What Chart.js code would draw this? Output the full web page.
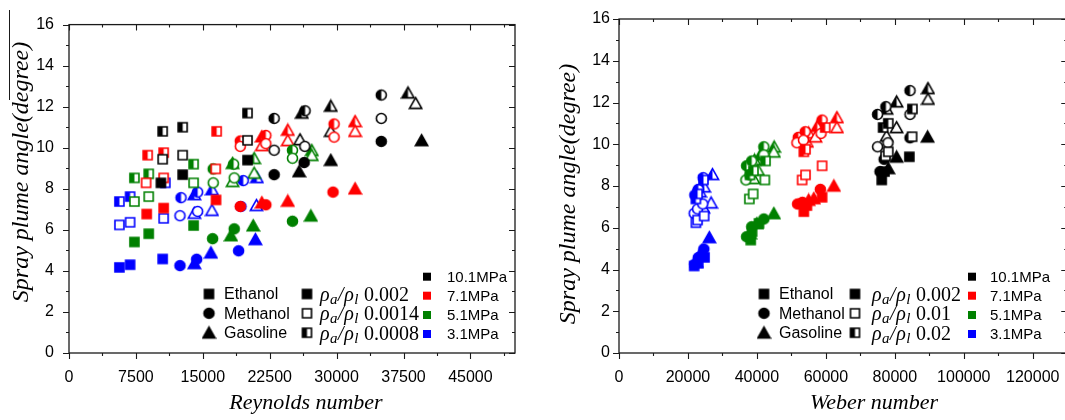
<!DOCTYPE html>
<html>
<head>
<meta charset="utf-8">
<script src="https://cdn.jsdelivr.net/npm/chart.js@4.4.1/dist/chart.umd.min.js"></script>
<style>
  html, body { margin: 0; padding: 0; overflow: hidden; background: #fff; }
  #wrap { position: relative; width: 1075px; height: 420px; }
  canvas { position: absolute; top: 0; }
  #reChart { left: 0; }
  #weChart { left: 540px; }
</style>
</head>
<body>
<div id="wrap">
  <canvas id="reChart" width="540" height="420"></canvas>
  <canvas id="weChart" width="535" height="420"></canvas>
</div>
<script>
// categories
const fuels = ['Ethanol', 'Methanol', 'Gasoline'];
const pressures = ['10.1MPa', '7.1MPa', '5.1MPa', '3.1MPa'];
const densityRatioRe = ['0.002', '0.0014', '0.0008'];
const densityRatioWe = ['0.002', '0.01', '0.02'];
const yTicks = [0, 2, 4, 6, 8, 10, 12, 14, 16];
const reTicks = [0, 7500, 15000, 22500, 30000, 37500, 45000];
const weTicks = [0, 20000, 40000, 60000, 80000, 100000, 120000];

// rows: 10.1, 7.1, 5.1, 3.1 MPa ; each row: [filled, open, half] ; 3 points each
const ethanolAngle = [
  [[8.29, 8.69, 9.40], [9.44, 9.64, 10.36], [10.80, 11.00, 11.69]],
  [[6.77, 7.06, 7.46], [8.29, 8.53, 8.97], [9.64, 9.76, 10.80]],
  [[5.41, 5.81, 6.21], [7.38, 7.62, 8.29], [8.53, 8.73, 9.20]],
  [[4.17, 4.30, 4.58], [6.24, 6.37, 6.56], [7.38, 7.62, 8.29]]
];
const ethanolRe = [
  [[10300, 12740, 20015], [10500, 12740, 20015], [10500, 12740, 20015]],
  [[8710, 10610, 16480], [8640, 10610, 16450], [8820, 10610, 16550]],
  [[7330, 8940, 13970], [7330, 8940, 13970], [7330, 8940, 13970]],
  [[5650, 6850, 10500], [5650, 6850, 10610], [5650, 6850, 10800]]
];
const ethanolWe = [
  [[76200, 77000, 84200], [77300, 78100, 85000], [76600, 78100, 85100]],
  [[53600, 54500, 58900], [53100, 54100, 58900], [53600, 54100, 59800]],
  [[38200, 38600, 40600], [37800, 38900, 42300], [38000, 39000, 42500]],
  [[21800, 23000, 24800], [22300, 22800, 24700], [22300, 22800, 24500]]
];

const methanolAngle = [
  [[8.69, 9.28, 10.31], [9.88, 10.07, 11.43], [11.43, 11.80, 12.57]],
  [[7.14, 7.22, 7.84], [10.07, 10.20, 10.52], [10.33, 10.60, 11.16]],
  [[5.57, 6.05, 6.42], [8.29, 8.53, 9.49], [8.97, 9.20, 9.88]],
  [[4.26, 4.57, 4.98], [6.69, 6.90, 7.14], [7.57, 7.84, 8.40]]
];
const methanolRe = [
  [[23000, 26360, 35010], [23000, 26440, 35010], [23000, 26470, 35010]],
  [[19200, 22070, 29600], [19200, 22070, 29720], [19200, 22070, 29720]],
  [[16100, 18520, 25050], [16170, 18520, 25050], [16170, 18450, 25050]],
  [[12440, 14310, 19010], [12440, 14420, 19270], [12560, 14420, 19530]]
];
const methanolWe = [
  [[75700, 76900, 84400], [75000, 78000, 84400], [75000, 77400, 84400]],
  [[51800, 53200, 58400], [51600, 53500, 58600], [52000, 54000, 58900]],
  [[37000, 38500, 42000], [36800, 38000, 42000], [37000, 38500, 42000]],
  [[22000, 23000, 24600], [21800, 22800, 24300], [22000, 23000, 24400]]
];

const gasolineAngle = [
  [[8.85, 9.40, 10.36], [10.40, 10.81, 12.17], [11.70, 12.04, 12.68]],
  [[7.33, 7.41, 8.01], [10.12, 10.36, 10.81], [10.55, 10.87, 11.29]],
  [[5.73, 6.21, 6.69], [8.37, 8.77, 9.64], [9.25, 9.49, 9.88]],
  [[4.37, 4.89, 5.54], [6.82, 6.96, 7.20], [7.73, 7.97, 8.56]]
];
const gasolineRe = [
  [[25800, 29350, 39530], [25900, 29350, 38860], [26100, 29350, 38000]],
  [[21620, 24530, 32070], [21620, 24530, 32070], [21620, 24530, 32070]],
  [[18150, 20650, 27110], [18340, 20760, 27220], [18340, 20760, 27220]],
  [[14050, 15910, 20900], [14050, 16030, 21020], [14050, 16030, 21060]]
];
const gasolineWe = [
  [[78100, 80500, 89500], [77600, 80500, 89600], [77600, 80500, 89600]],
  [[55000, 56500, 62300], [54500, 57000, 63200], [55000, 57500, 63200]],
  [[38000, 40000, 44900], [39000, 40300, 44900], [39300, 41000, 45000]],
  [[22500, 24000, 26200], [23500, 24500, 26700], [23500, 24700, 27100]]
];

const pressureColors = ['#000000', '#ff0000', '#008000', '#0000ff'];
const fuelShapes = ['square', 'circle', 'triangle'];
const densityFills = ['filled', 'open', 'half'];

Chart.defaults.font.family = '"Liberation Sans", Arial, sans-serif';
Chart.defaults.color = '#000';

// marker images for the point styles
const markerCache = {};
function marker(shape, fill, color) {
    const key = shape + fill + color;
    if (markerCache[key]) return markerCache[key];
    const c = document.createElement('canvas');
    c.width = 15;
    c.height = 15;
    const g = c.getContext('2d');
    const path = () => {
        g.beginPath();
        if (shape === 'square') g.rect(3, 3, 9, 9);
        else if (shape === 'circle') g.arc(7.5, 7.5, 5, 0, Math.PI * 2);
        else { g.moveTo(7.5, 1.8); g.lineTo(13.6, 12.6); g.lineTo(1.4, 12.6); g.closePath(); }
    };
    g.lineWidth = 1.6;
    g.strokeStyle = color;
    g.fillStyle = color;
    g.lineJoin = 'miter';
    path();
    if (fill === 'filled') {
        g.fill();
        g.stroke();
    } else {
        g.fillStyle = '#fff';
        g.fill();
        if (fill === 'half') {
            g.save();
            g.beginPath();
            g.rect(0, 0, 7.5, 15);
            g.clip();
            path();
            g.fillStyle = color;
            g.fill();
            g.restore();
            path();
        }
        g.stroke();
    }
    markerCache[key] = c;
    return c;
}

function buildDatasets(angleSets, xSets) {
    const out = [];
    fuels.forEach((fuel, f) => {
        pressures.forEach((p, i) => {
            densityFills.forEach((fill, d) => {
                const xs = xSets[f][i][d];
                const ys = angleSets[f][i][d];
                out.push({
                    label: fuel + ' ' + p + ' ' + fill,
                    data: xs.map((x, k) => ({ x: x, y: ys[k] })),
                    pointStyle: marker(fuelShapes[f], fill, pressureColors[i]),
                    pointRadius: 6
                });
            });
        });
    });
    return out;
}

const angleSets = [ethanolAngle, methanolAngle, gasolineAngle];

// frame, ticks, titles and legend
const framePlugin = {
    id: 'frame',
    afterDraw(chart, args, o) {
        const ctx = chart.ctx;
        const a = chart.chartArea;
        const x = chart.scales.x;
        const y = chart.scales.y;
        ctx.save();
        ctx.strokeStyle = '#1a1a1a';
        ctx.lineWidth = 1.3;
        ctx.strokeRect(a.left, a.top, a.right - a.left, a.bottom - a.top);

        ctx.beginPath();
        for (let k = 0; k * o.xMinor <= x.max + 1e-6; k++) {
            const px = Math.round(x.getPixelForValue(k * o.xMinor)) + 0.5;
            const len = k % 2 === 0 ? 6 : 3;
            ctx.moveTo(px, a.bottom); ctx.lineTo(px, a.bottom + len);
            ctx.moveTo(px, a.top); ctx.lineTo(px, a.top + len);
        }
        for (let v = 0; v <= 16; v++) {
            const py = Math.round(y.getPixelForValue(v)) + 0.5;
            const len = v % 2 === 0 ? 6 : 3;
            ctx.moveTo(a.left - len, py); ctx.lineTo(a.left, py);
            ctx.moveTo(a.right - len, py); ctx.lineTo(a.right, py);
        }
        ctx.lineWidth = 1.1;
        ctx.stroke();

        if (o.overline) {
            ctx.beginPath();
            ctx.lineWidth = 1;
            ctx.moveTo(9.5, 10); ctx.lineTo(9.5, 100);
            ctx.stroke();
        }

        // axis titles
        ctx.fillStyle = '#000';
        ctx.font = 'italic 22px "Liberation Serif", "Times New Roman", serif';
        ctx.textAlign = 'center';
        ctx.textBaseline = 'alphabetic';
        ctx.fillText(o.xTitle, o.xTitleX, o.xTitleY);
        ctx.font = 'italic 24px "Liberation Serif", "Times New Roman", serif';
        ctx.save();
        ctx.translate(o.yTitleX, o.yTitleY);
        ctx.rotate(-Math.PI / 2);
        ctx.fillText('Spray plume angle(degree)', 0, 0);
        ctx.restore();

        // legend: fuels
        const L = o.legend;
        ctx.textAlign = 'left';
        ctx.textBaseline = 'middle';
        ctx.font = '16px "Liberation Sans", Arial, sans-serif';
        fuels.forEach((fuel, f) => {
            const m = marker(fuelShapes[f], 'filled', '#000');
            ctx.drawImage(m, L.c1 - 7.5, L.rows[f] - 7.5);
            ctx.fillText(fuel, L.c1t, L.rows[f] + 1);
        });
        // legend: density ratios
        o.ratios.forEach((r, d) => {
            const m = marker('square', densityFills[d], '#000');
            ctx.drawImage(m, L.c2 - 7.5, L.rows[d] - 7.5);
            const base = L.rows[d] + 7;
            let px = L.c2t;
            ctx.textBaseline = 'alphabetic';
            const runs = [
                ['italic 20px "Liberation Serif", serif', '\u03c1', 0],
                ['italic 15px "Liberation Serif", serif', 'a', 3],
                ['italic 20px "Liberation Serif", serif', '/', 0],
                ['italic 20px "Liberation Serif", serif', '\u03c1', 0],
                ['italic 15px "Liberation Serif", serif', 'l', 3],
                ['20px "Liberation Serif", serif', ' ' + r, 0]
            ];
            runs.forEach(run => {
                ctx.font = run[0];
                ctx.fillText(run[1], px, base + run[2]);
                px += ctx.measureText(run[1]).width + 0.5;
            });
            ctx.textBaseline = 'middle';
        });
        // legend: pressures
        ctx.font = '15px "Liberation Sans", Arial, sans-serif';
        pressures.forEach((p, i) => {
            ctx.fillStyle = pressureColors[i];
            ctx.fillRect(L.c3 - 4, L.prow[i] - 4, 8, 8);
            ctx.fillStyle = '#000';
            ctx.fillText(p, L.c3t, L.prow[i] + 1);
        });
        ctx.restore();
    }
};

function makeChart(id, datasets, xMax, xStep, xTicks, yWidth, yPad, padRight, extra) {
    return new Chart(document.getElementById(id), {
        type: 'scatter',
        data: { datasets: datasets },
        options: {
            responsive: false,
            animation: false,
            devicePixelRatio: 1,
            events: [],
            layout: { padding: { top: 19, right: padRight, left: 0, bottom: 0 } },
            plugins: { legend: { display: false }, tooltip: { enabled: false }, frame: extra },
            scales: {
                x: {
                    type: 'linear',
                    min: 0,
                    max: xMax,
                    ticks: {
                        stepSize: xStep,
                        padding: 15,
                        maxRotation: 0,
                        autoSkip: false,
                        font: { size: 16 },
                        callback: v => String(v)
                    },
                    afterBuildTicks: s => {
                        s.ticks = xTicks.map(v => ({ value: v }));
                    },
                    afterFit: s => { s.height = 67; },
                    grid: { display: false, drawTicks: false },
                    border: { display: false }
                },
                y: {
                    min: 0,
                    max: 16,
                    ticks: {
                        stepSize: 2,
                        padding: yPad,
                        font: { size: 16 },
                        callback: v => String(v)
                    },
                    afterBuildTicks: s => {
                        s.ticks = yTicks.map(v => ({ value: v }));
                    },
                    afterFit: s => { s.width = yWidth; },
                    grid: { display: false, drawTicks: false },
                    border: { display: false }
                }
            }
        },
        plugins: [framePlugin]
    });
}

const rows = [294, 313.3, 332.7];
const prow = [276.7, 295.7, 315, 334];

makeChart('reChart', buildDatasets(angleSets, [ethanolRe, methanolRe, gasolineRe]),
    50000, 7500, reTicks, 69, 15, 25, {
        xMinor: 3750,
        overline: true,
        xTitle: 'Reynolds number', xTitleX: 306, xTitleY: 409,
        yTitleX: 28, yTitleY: 172,
        ratios: densityRatioRe,
        legend: { c1: 209, c1t: 224, c2: 307, c2t: 320, c3: 427, c3t: 447, rows: rows, prow: prow }
    });

makeChart('weChart', buildDatasets(angleSets, [ethanolWe, methanolWe, gasolineWe]),
    130000, 20000, weTicks, 79, 9, 5, {
        xMinor: 10000,
        overline: false,
        xTitle: 'Weber number', xTitleX: 334, xTitleY: 409,
        yTitleX: 35, yTitleY: 194,
        ratios: densityRatioWe,
        legend: { c1: 224, c1t: 239, c2: 315, c2t: 332, c3: 432, c3t: 450, rows: rows, prow: prow }
    });
</script>
</body>
</html>
